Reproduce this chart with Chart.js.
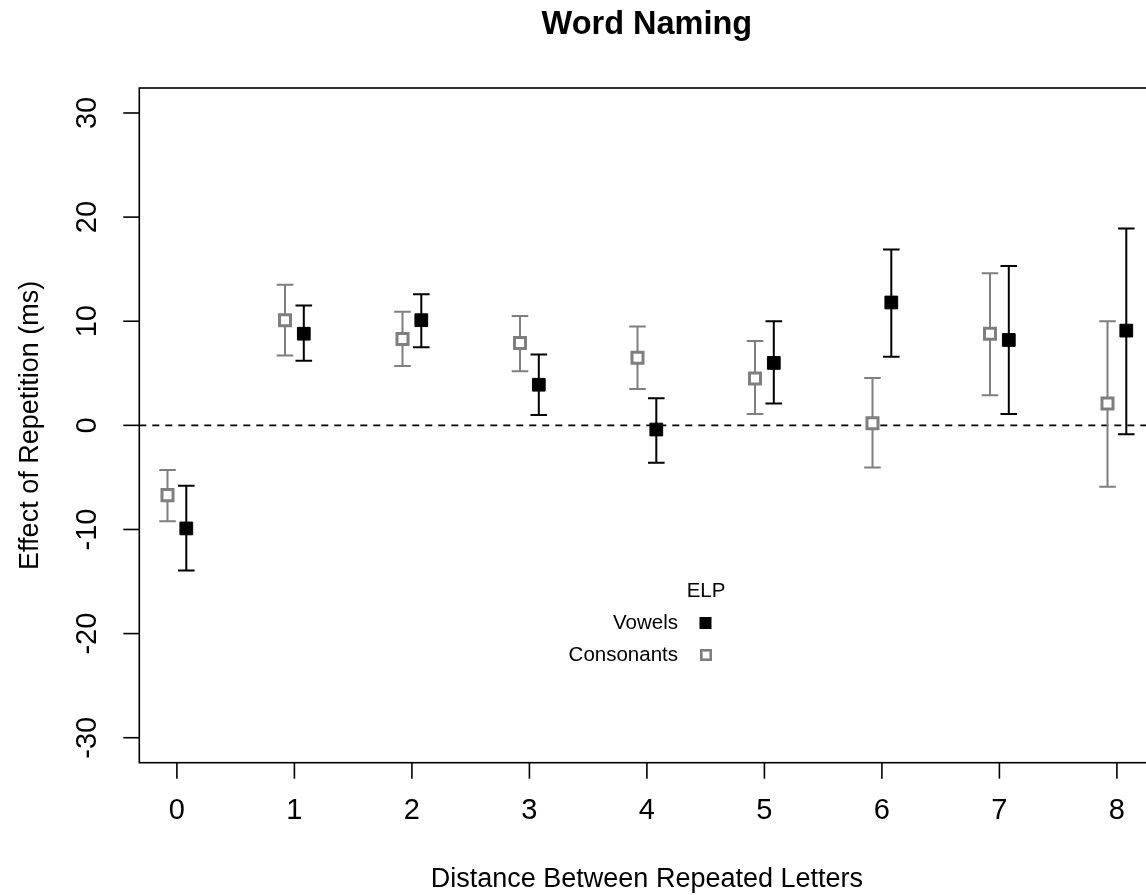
<!DOCTYPE html>
<html>
<head>
<meta charset="utf-8">
<script src="https://cdn.jsdelivr.net/npm/chart.js@4"></script>
<style>
html,body{margin:0;padding:0;background:#fff;overflow:hidden;}
#wrap{width:1170px;height:895px;}
</style>
</head>
<body>
<div id="wrap"><canvas id="c" width="1170" height="895"></canvas></div>
<script>
const distances = [0, 1, 2, 3, 4, 5, 6, 7, 8];
const xTickLabels = ['0', '1', '2', '3', '4', '5', '6', '7', '8'];
const yTickValues = [-30, -20, -10, 0, 10, 20, 30];
const yTickLabels = ['-30', '-20', '-10', '0', '10', '20', '30'];

const vowelMeans = [-9.9, 8.8, 10.1, 3.9, -0.4, 6.0, 11.8, 8.2, 9.1];
const vowelLower = [-13.95, 6.2, 7.5, 1.0, -3.6, 2.1, 6.6, 1.1, -0.85];
const vowelUpper = [-5.8, 11.5, 12.6, 6.8, 2.6, 10.0, 16.9, 15.3, 18.9];

const consMeans = [-6.7, 10.1, 8.3, 7.9, 6.5, 4.5, 0.2, 8.8, 2.1];
const consLower = [-9.2, 6.7, 5.7, 5.2, 3.5, 1.1, -4.05, 2.9, -5.9];
const consUpper = [-4.3, 13.5, 10.9, 10.5, 9.5, 8.1, 4.55, 14.6, 10.0];

const titleText = 'Word Naming';
const xTitle = 'Distance Between Repeated Letters';
const yTitle = 'Effect of Repetition (ms)';
const legendTitle = 'ELP';
const seriesNames = ['Vowels', 'Consonants'];

const OFFSET = 0.08;
const GRAY = '#7f7f7f';
const FONT = '"Liberation Sans", Arial, Helvetica, sans-serif';

const vowelPts = distances.map((d, i) => ({x: d + OFFSET, y: vowelMeans[i], lo: vowelLower[i], hi: vowelUpper[i]}));
const consPts = distances.map((d, i) => ({x: d - OFFSET, y: consMeans[i], lo: consLower[i], hi: consUpper[i]}));

const errorBars = {
  id: 'errorBars',
  beforeDatasetsDraw(chart) {
    const ctx = chart.ctx, xs = chart.scales.x, ys = chart.scales.y, a = chart.chartArea;
    ctx.save();
    ctx.beginPath();
    ctx.setLineDash([7, 6]);
    ctx.lineWidth = 1.6;
    ctx.strokeStyle = '#000';
    const y0 = ys.getPixelForValue(0);
    ctx.moveTo(a.left, y0); ctx.lineTo(a.right, y0);
    ctx.stroke();
    ctx.setLineDash([]);
    chart.data.datasets.forEach((ds) => {
      ctx.strokeStyle = ds.errColor;
      ctx.lineWidth = 2;
      ds.data.forEach(p => {
        const px = xs.getPixelForValue(p.x);
        const yl = ys.getPixelForValue(p.lo), yh = ys.getPixelForValue(p.hi);
        ctx.beginPath();
        ctx.moveTo(px, yl); ctx.lineTo(px, yh);
        ctx.moveTo(px - 8.3, yl); ctx.lineTo(px + 8.3, yl);
        ctx.moveTo(px - 8.3, yh); ctx.lineTo(px + 8.3, yh);
        ctx.stroke();
      });
    });
    ctx.restore();
  },
  afterDraw(chart) {
    const ctx = chart.ctx, xs = chart.scales.x, ys = chart.scales.y, a = chart.chartArea;
    ctx.save();
    ctx.strokeStyle = '#000';
    ctx.lineWidth = 1.6;
    ctx.strokeRect(a.left, a.top, a.right - a.left, a.bottom - a.top);
    ctx.fillStyle = '#000';
    ctx.font = '29px ' + FONT;
    ctx.textAlign = 'center';
    ctx.textBaseline = 'middle';
    distances.forEach((d, i) => {
      const px = xs.getPixelForValue(d);
      ctx.beginPath(); ctx.moveTo(px, a.bottom); ctx.lineTo(px, a.bottom + 16); ctx.stroke();
      ctx.fillText(xTickLabels[i], px, a.bottom + 48);
    });
    yTickValues.forEach((v, i) => {
      const py = ys.getPixelForValue(v);
      ctx.beginPath(); ctx.moveTo(a.left, py); ctx.lineTo(a.left - 16, py); ctx.stroke();
      ctx.save();
      ctx.translate(a.left - 51, py);
      ctx.rotate(-Math.PI / 2);
      ctx.fillText(yTickLabels[i], 0, 0);
      ctx.restore();
    });
    const cx = (a.left + a.right) / 2;
    ctx.font = 'bold 32.5px ' + FONT;
    ctx.textBaseline = 'alphabetic';
    ctx.fillText(titleText, cx, 34);
    ctx.font = '27px ' + FONT;
    ctx.fillText(xTitle, cx, 887);
    ctx.save();
    ctx.translate(38, (a.top + a.bottom) / 2);
    ctx.rotate(-Math.PI / 2);
    ctx.fillText(yTitle, 0, 0);
    ctx.restore();
    ctx.font = '20.5px ' + FONT;
    ctx.textBaseline = 'middle';
    ctx.textAlign = 'center';
    ctx.fillText(legendTitle, 706, 591);
    ctx.textAlign = 'right';
    ctx.fillText(seriesNames[0], 678, 623);
    ctx.fillText(seriesNames[1], 678, 655);
    ctx.fillStyle = '#000';
    ctx.fillRect(699.5, 617, 12, 12);
    ctx.strokeStyle = GRAY;
    ctx.lineWidth = 2.6;
    ctx.fillStyle = '#fff';
    ctx.fillRect(701.3, 650.3, 9.4, 9.4);
    ctx.strokeRect(701.3, 650.3, 9.4, 9.4);
    ctx.restore();
  }
};

new Chart(document.getElementById('c'), {
  type: 'scatter',
  data: {
    datasets: [
      {
        label: seriesNames[1],
        data: consPts,
        errColor: GRAY,
        pointStyle: 'rect',
        pointRadius: 7.8,
        pointHoverRadius: 7.8,
        pointBackgroundColor: '#fff',
        pointBorderColor: GRAY,
        pointBorderWidth: 3,
        showLine: false
      },
      {
        label: seriesNames[0],
        data: vowelPts,
        errColor: '#000',
        pointStyle: 'rect',
        pointRadius: 9,
        pointHoverRadius: 9,
        pointBackgroundColor: '#000',
        pointBorderColor: '#000',
        pointBorderWidth: 1,
        showLine: false
      }
    ]
  },
  options: {
    responsive: false,
    devicePixelRatio: 1,
    animation: false,
    layout: {padding: {left: 139.3, top: 88, right: 15.5, bottom: 132.3}},
    plugins: {legend: {display: false}, title: {display: false}, tooltip: {enabled: false}},
    scales: {
      x: {type: 'linear', display: false, min: -0.32, max: 8.32},
      y: {type: 'linear', display: false, min: -32.4, max: 32.4}
    }
  },
  plugins: [errorBars]
});
</script>
</body>
</html>
